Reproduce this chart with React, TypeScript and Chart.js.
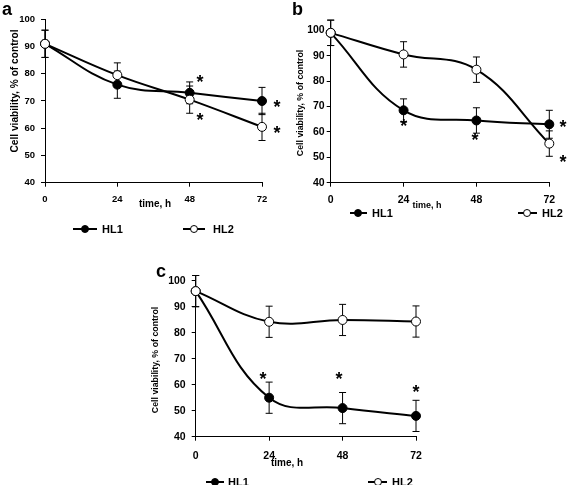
import React, { useEffect, useRef } from "react";
import { Chart, registerables } from "chart.js";

Chart.register(...registerables);

// ---------- data ----------
const hours = [0, 24, 48, 72];
const xTickValues = [0, 24, 48, 72];
const yMin = 40;
const yMax = 100;
const yStep = 10;
const seriesNames = ["HL1", "HL2"];
const xTitleText = "time, h";
const yTitleText = "Cell viability, % of control";

const aHL1 = [91, 76, 73, 70];
const aHL1Err = [5, 5, 4, 5];
const aHL2 = [91, 79.5, 70.5, 60.5];
const aHL2Err = [5, 4.5, 5, 5];
const aStarsX = [51.4, 51.4, 77, 77];
const aStarsY = [78.4, 64.5, 69.3, 59.7];

const bHL1 = [99, 68.5, 64.5, 63];
const bHL1Err = [5, 4.5, 5, 5.5];
const bHL2 = [99, 90.5, 84.5, 55.4];
const bHL2Err = [5, 5, 5, 5];
const bStarsX = [24.1, 47.5, 76.5, 76.5];
const bStarsY = [63.9, 58.4, 63.5, 49.7];

const cHL1 = [96, 55, 51, 48];
const cHL1Err = [6, 6, 6, 6];
const cHL2 = [96, 84.2, 84.9, 84.3];
const cHL2Err = [6, 6, 6, 6];
const cStarsX = [22, 46.8, 72];
const cStarsY = [63.7, 63.7, 58.7];

// ---------- layout / style ----------
const W = 567;
const H = 485;
const FONT = '"Liberation Sans", Arial, Helvetica, sans-serif';
const Y_W = 30;
const X_H = 24;

type Panel = {
  letter: string;
  hl1: number[];
  hl1Err: number[];
  hl2: number[];
  hl2Err: number[];
  starsX: number[];
  starsY: number[];
  plot: { l: number; r: number; t: number; b: number };
  tickFont: number;
  yPad: number;
  xPad: number;
  xTitle: { x: number; y: number; size: number };
  yTitle: { x: number; y: number; size: number };
  legend: { y: number; items: { cx: number; l: number; r: number; tx: number }[] };
  letterPos: { x: number; y: number };
};

const panels: Panel[] = [
  {
    letter: "a",
    hl1: aHL1, hl1Err: aHL1Err, hl2: aHL2, hl2Err: aHL2Err,
    starsX: aStarsX, starsY: aStarsY,
    plot: { l: 45, r: 262, t: 19.3, b: 182.7 },
    tickFont: 9.5,
    yPad: 6,
    xPad: 7,
    xTitle: { x: 155, y: 204, size: 10 },
    yTitle: { x: 15.5, y: 91, size: 10.2 },
    legend: {
      y: 229,
      items: [
        { cx: 85, l: 73, r: 97, tx: 102 },
        { cx: 194, l: 183, r: 205, tx: 213 },
      ],
    },
    letterPos: { x: 2, y: 15 },
  },
  {
    letter: "b",
    hl1: bHL1, hl1Err: bHL1Err, hl2: bHL2, hl2Err: bHL2Err,
    starsX: bStarsX, starsY: bStarsY,
    plot: { l: 330.7, r: 549.3, t: 30.3, b: 182.7 },
    tickFont: 10.5,
    yPad: 2,
    xPad: 7,
    xTitle: { x: 427, y: 206, size: 9 },
    yTitle: { x: 301, y: 103, size: 8.8 },
    legend: {
      y: 213,
      items: [
        { cx: 358, l: 350, r: 367, tx: 372 },
        { cx: 527, l: 518, r: 537, tx: 542 },
      ],
    },
    letterPos: { x: 292, y: 15 },
  },
  {
    letter: "c",
    hl1: cHL1, hl1Err: cHL1Err, hl2: cHL2, hl2Err: cHL2Err,
    starsX: cStarsX, starsY: cStarsY,
    plot: { l: 195.7, r: 416, t: 280.7, b: 436.7 },
    tickFont: 10.5,
    yPad: 6,
    xPad: 9.5,
    xTitle: { x: 287, y: 463.5, size: 10 },
    yTitle: { x: 155.5, y: 360, size: 8.8 },
    legend: {
      y: 482,
      items: [
        { cx: 215, l: 206, r: 224, tx: 228 },
        { cx: 378, l: 368, r: 387, tx: 392 },
      ],
    },
    letterPos: { x: 156, y: 277 },
  },
];

function makeConfig(p: Panel): any {
  const mkDs = (name: string, vals: number[], filled: boolean, order: number) => ({
    label: name,
    data: hours.map((h, i) => ({ x: h, y: vals[i] })),
    borderColor: "#000",
    borderWidth: 2,
    tension: 0.4,
    pointRadius: 4.5,
    pointHoverRadius: 4.5,
    pointBackgroundColor: filled ? "#000" : "#fff",
    pointBorderColor: "#000",
    pointBorderWidth: 1,
    fill: false,
    clip: false,
    order,
  });

  const errs = [p.hl1Err, p.hl2Err];
  const vals = [p.hl1, p.hl2];

  const errorBars = {
    id: "errorBars" + p.letter,
    beforeDatasetsDraw(chart: any) {
      const { ctx, scales } = chart;
      ctx.save();
      ctx.strokeStyle = "#000";
      ctx.lineWidth = 1;
      for (let s = 0; s < 2; s++) {
        for (let i = 0; i < hours.length; i++) {
          const x = scales.x.getPixelForValue(hours[i]);
          const y1 = scales.y.getPixelForValue(vals[s][i] + errs[s][i]);
          const y2 = scales.y.getPixelForValue(vals[s][i] - errs[s][i]);
          ctx.beginPath();
          ctx.moveTo(x, y1);
          ctx.lineTo(x, y2);
          ctx.moveTo(x - 3.5, y1);
          ctx.lineTo(x + 3.5, y1);
          ctx.moveTo(x - 3.5, y2);
          ctx.lineTo(x + 3.5, y2);
          ctx.stroke();
        }
      }
      ctx.restore();
    },
  };

  const extras = {
    id: "extras" + p.letter,
    afterDraw(chart: any) {
      const { ctx, scales } = chart;
      ctx.save();
      ctx.fillStyle = "#000";
      // asterisks
      ctx.font = `bold 18px ${FONT}`;
      ctx.textAlign = "center";
      ctx.textBaseline = "alphabetic";
      for (let i = 0; i < p.starsX.length; i++) {
        const x = scales.x.getPixelForValue(p.starsX[i]);
        const y = scales.y.getPixelForValue(p.starsY[i]);
        ctx.fillText("*", x, y + 10);
      }
      // x title
      ctx.font = `bold ${p.xTitle.size}px ${FONT}`;
      ctx.textAlign = "center";
      ctx.textBaseline = "middle";
      ctx.fillText(xTitleText, p.xTitle.x, p.xTitle.y);
      // y title
      ctx.save();
      ctx.translate(p.yTitle.x, p.yTitle.y);
      ctx.rotate(-Math.PI / 2);
      ctx.font = `bold ${p.yTitle.size}px ${FONT}`;
      ctx.fillText(yTitleText, 0, 0);
      ctx.restore();
      // panel letter
      ctx.font = `bold 18px ${FONT}`;
      ctx.textAlign = "left";
      ctx.textBaseline = "alphabetic";
      ctx.fillText(p.letter, p.letterPos.x, p.letterPos.y);
      // legend
      p.legend.items.forEach((it, k) => {
        const y = p.legend.y;
        ctx.strokeStyle = "#000";
        ctx.lineWidth = 2;
        ctx.beginPath();
        ctx.moveTo(it.l, y);
        ctx.lineTo(it.r, y);
        ctx.stroke();
        ctx.beginPath();
        ctx.arc(it.cx, y, 3.5, 0, Math.PI * 2);
        ctx.fillStyle = k === 0 ? "#000" : "#fff";
        ctx.fill();
        ctx.lineWidth = 1;
        ctx.stroke();
        ctx.fillStyle = "#000";
        ctx.font = `bold 11px ${FONT}`;
        ctx.textAlign = "left";
        ctx.textBaseline = "middle";
        ctx.fillText(seriesNames[k], it.tx, y + 0.5);
      });
      ctx.restore();
    },
  };

  const tickFont = { family: FONT, size: p.tickFont, weight: "bold" as const };

  return {
    type: "line",
    data: {
      datasets: [mkDs(seriesNames[0], p.hl1, true, 1), mkDs(seriesNames[1], p.hl2, false, 0)],
    },
    options: {
      animation: false,
      responsive: false,
      devicePixelRatio: 1,
      events: [],
      layout: {
        padding: {
          left: p.plot.l - Y_W,
          right: W - p.plot.r,
          top: p.plot.t,
          bottom: H - p.plot.b - X_H,
        },
      },
      plugins: { legend: { display: false }, title: { display: false }, tooltip: { enabled: false } },
      scales: {
        x: {
          type: "linear",
          min: 0,
          max: 72,
          afterBuildTicks: (scale: any) => {
            scale.ticks = xTickValues.map((v) => ({ value: v }));
          },
          afterFit: (scale: any) => {
            scale.height = X_H;
          },
          ticks: { color: "#000", font: tickFont, padding: p.xPad, maxRotation: 0, autoSkip: false },
          grid: { display: true, drawOnChartArea: false, drawTicks: true, tickLength: 4, color: "#000", lineWidth: 1 },
          border: { display: true, color: "#000", width: 1 },
        },
        y: {
          type: "linear",
          min: yMin,
          max: yMax,
          ticks: { stepSize: yStep, color: "#000", font: tickFont, padding: p.yPad },
          afterFit: (scale: any) => {
            scale.width = Y_W;
          },
          grid: { display: true, drawOnChartArea: false, drawTicks: true, tickLength: 4, color: "#000", lineWidth: 1 },
          border: { display: true, color: "#000", width: 1 },
        },
      },
    },
    plugins: [errorBars, extras],
  };
}

function PanelChart({ panel }: { panel: Panel }) {
  const ref = useRef<HTMLCanvasElement | null>(null);
  useEffect(() => {
    if (!ref.current) return;
    const chart = new Chart(ref.current, makeConfig(panel));
    return () => chart.destroy();
  }, [panel]);
  return (
    <canvas
      ref={ref}
      width={W}
      height={H}
      style={{ position: "absolute", left: 0, top: 0, width: W, height: H }}
    />
  );
}

export default function App() {
  return (
    <div style={{ position: "absolute", left: 0, top: 0, width: W, height: H, background: "#fff", overflow: "hidden" }}>
      {panels.map((p) => (
        <PanelChart key={p.letter} panel={p} />
      ))}
    </div>
  );
}
